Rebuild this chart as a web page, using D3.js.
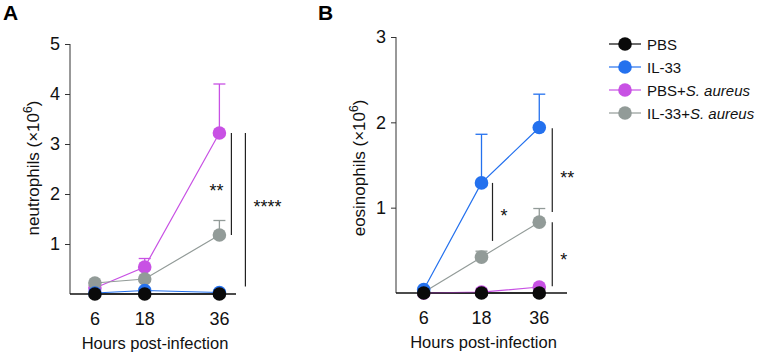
<!DOCTYPE html>
<html>
<head>
<meta charset="utf-8">
<script src="https://cdn.jsdelivr.net/npm/d3@7"></script>
<style>
  body { margin: 0; background: #fff; }
  svg { font-family: "Liberation Sans", Arial, sans-serif; }
</style>
</head>
<body>
<svg id="chart" width="760" height="352"></svg>
<script>
// time points (hours post-infection)
const hours = [6, 18, 36];

// groups, in drawing order (black drawn last, on top)
const groups = ["PBS+S. aureus", "IL-33+S. aureus", "IL-33", "PBS"];
const legendGroups = ["PBS", "IL-33", "PBS+S. aureus", "IL-33+S. aureus"];
const groupColours = {
    "PBS": "#0a0a0a",
    "IL-33": "#2471ee",
    "PBS+S. aureus": "#c851e4",
    "IL-33+S. aureus": "#929b98"
};

// panel A: neutrophils (x10^6) mean and upper error
const neutroMean = {
    "PBS": [0, 0, 0],
    "IL-33": [0.02, 0.07, 0.03],
    "PBS+S. aureus": [0.12, 0.54, 3.22],
    "IL-33+S. aureus": [0.22, 0.3, 1.18]
};
const neutroErr = {
    "PBS": [null, null, null],
    "IL-33": [null, null, null],
    "PBS+S. aureus": [null, 0.71, 4.2],
    "IL-33+S. aureus": [null, null, 1.47]
};

// panel B: eosinophils (x10^6)
const eosinoMean = {
    "PBS": [0, 0, 0],
    "IL-33": [0.04, 1.29, 1.94],
    "PBS+S. aureus": [0, 0.01, 0.07],
    "IL-33+S. aureus": [0.01, 0.42, 0.83]
};
const eosinoErr = {
    "PBS": [null, null, null],
    "IL-33": [null, 1.86, 2.33],
    "PBS+S. aureus": [null, null, null],
    "IL-33+S. aureus": [null, 0.49, 0.99]
};

const neutroTicks = [1, 2, 3, 4, 5];
const eosinoTicks = [1, 2, 3];

// significance brackets
const neutroSig = [
    { hour: 36, y0: 3.22, y1: 1.18, label: "**", dx: 12, side: "left", ly: 2.15 },
    { hour: 36, y0: 3.22, y1: 0.15, label: "****", dx: 26, side: "right", ly: 1.83 }
];
const eosinoSig = [
    { hour: 18, y0: 1.29, y1: 0.61, label: "*", dx: 11, side: "right", ly: 0.95 },
    { hour: 36, y0: 1.93, y1: 0.95, label: "**", dx: 13, side: "right", ly: 1.4 },
    { hour: 36, y0: 0.83, y1: 0.08, label: "*", dx: 13, side: "right", ly: 0.43 }
];

const svg = d3.select("#chart");
const r = 6.8;

function panel(opts) {
    const g = svg.append("g");
    const x = opts.x;
    const y = d3.scaleLinear().domain([0, opts.yMax]).range([opts.bottom, opts.top]);

    // axes
    const yAxis = g.append("g")
        .attr("transform", `translate(${opts.left},0)`)
        .call(d3.axisLeft(y).tickValues(opts.ticks).tickSize(5).tickSizeOuter(0).tickFormat(d3.format("d")));
    yAxis.select(".domain").attr("stroke", "#333").attr("d", `M0,${y(opts.yMax)}V${opts.bottom}`);
    yAxis.selectAll(".tick line").attr("stroke", "#333");
    yAxis.selectAll(".tick text").attr("font-size", 18).attr("fill", "#111").attr("font-family", null).attr("dx", -2);

    g.append("line")
        .attr("x1", opts.left).attr("x2", opts.right)
        .attr("y1", opts.bottom).attr("y2", opts.bottom)
        .attr("stroke", "#111").attr("stroke-width", 1.4);

    g.selectAll("text.xtick")
        .data(hours)
        .join("text")
        .attr("class", "xtick")
        .attr("x", d => x(d))
        .attr("y", opts.bottom + 31)
        .attr("text-anchor", "middle")
        .attr("font-size", 18)
        .attr("fill", "#111")
        .text(d => d);

    g.append("text")
        .attr("x", (opts.left + opts.right) / 2 + 2)
        .attr("y", opts.bottom + 55)
        .attr("text-anchor", "middle")
        .attr("font-size", 16.5)
        .attr("fill", "#111")
        .text("Hours post-infection");

    const yl = g.append("text")
        .attr("transform", `translate(${opts.labelX},${opts.labelY}) rotate(-90)`)
        .attr("text-anchor", "middle")
        .attr("font-size", 17)
        .attr("fill", "#111");
    yl.append("tspan").text(opts.yLabel + " (\u00d710");
    yl.append("tspan").attr("font-size", 12).attr("dy", -7).text("6");
    yl.append("tspan").attr("dy", 7).text(")");

    g.append("text")
        .attr("x", opts.letterX).attr("y", 20)
        .attr("font-size", 21).attr("font-weight", "bold")
        .text(opts.letter);

    // series
    const line = d3.line().x((d, i) => x(hours[i])).y(d => y(d));
    for (const grp of groups) {
        const c = groupColours[grp];
        const sg = g.append("g");
        opts.err[grp].forEach((e, i) => {
            if (e === null) return;
            const xx = x(hours[i]);
            sg.append("line")
                .attr("x1", xx).attr("x2", xx)
                .attr("y1", y(opts.mean[grp][i])).attr("y2", y(e))
                .attr("stroke", c).attr("stroke-width", 1.3);
            sg.append("line")
                .attr("x1", xx - 6).attr("x2", xx + 6)
                .attr("y1", y(e)).attr("y2", y(e))
                .attr("stroke", c).attr("stroke-width", 1.3);
        });
        sg.append("path")
            .attr("d", line(opts.mean[grp]))
            .attr("fill", "none")
            .attr("stroke", c)
            .attr("stroke-width", 1.2);
        sg.selectAll("circle")
            .data(opts.mean[grp])
            .join("circle")
            .attr("cx", (d, i) => x(hours[i]))
            .attr("cy", d => y(d))
            .attr("r", r)
            .attr("fill", c);
    }

    // significance brackets
    for (const s of opts.sig) {
        const xx = x(s.hour) + s.dx;
        g.append("line")
            .attr("x1", xx).attr("x2", xx)
            .attr("y1", y(s.y0)).attr("y2", y(s.y1))
            .attr("stroke", "#222").attr("stroke-width", 1.2);
        g.append("text")
            .attr("x", s.side === "left" ? xx - 8 : xx + 8)
            .attr("y", y(s.ly) + 10)
            .attr("text-anchor", s.side === "left" ? "end" : "start")
            .attr("font-size", 18)
            .attr("fill", "#111")
            .text(s.label);
    }
}

panel({
    x: d3.scaleLinear().domain([0, 40]).range([70, 236]),
    left: 70, right: 236, top: 44, bottom: 294,
    yMax: 5, ticks: neutroTicks,
    mean: neutroMean, err: neutroErr, sig: neutroSig,
    yLabel: "neutrophils", labelX: 39, labelY: 168,
    letter: "A", letterX: 3
});

panel({
    x: d3.scalePoint().domain(hours).range([396, 567]).padding(0.48),
    left: 396, right: 567, top: 37, bottom: 293,
    yMax: 3, ticks: eosinoTicks,
    mean: eosinoMean, err: eosinoErr, sig: eosinoSig,
    yLabel: "eosinophils", labelX: 365, labelY: 168,
    letter: "B", letterX: 318
});

// legend
const legend = svg.append("g").attr("transform", "translate(609,44)");
const rows = legend.selectAll("g")
    .data(legendGroups)
    .join("g")
    .attr("transform", (d, i) => `translate(0,${i * 23})`);
rows.append("line")
    .attr("x1", 0).attr("x2", 32)
    .attr("stroke", d => groupColours[d]).attr("stroke-width", 1.2);
rows.append("circle")
    .attr("cx", 16).attr("r", r)
    .attr("fill", d => groupColours[d]);
rows.append("text")
    .attr("x", 38).attr("y", 5.5)
    .attr("font-size", 15)
    .attr("fill", "#111")
    .each(function (d) {
        const t = d3.select(this);
        const parts = d.split("S. aureus");
        t.append("tspan").text(parts[0]);
        if (parts.length > 1) t.append("tspan").attr("font-style", "italic").text("S. aureus");
    });
</script>
</body>
</html>
